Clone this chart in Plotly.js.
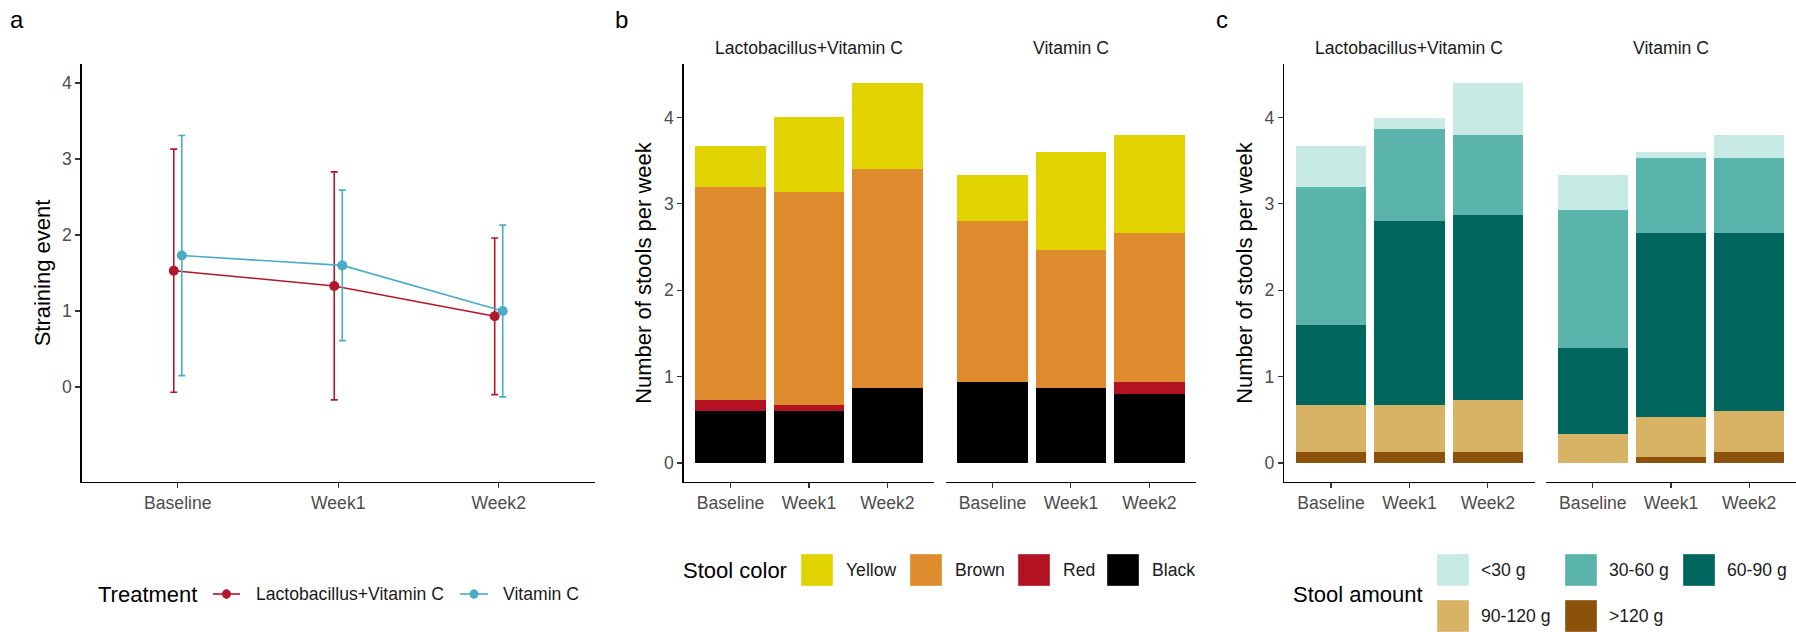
<!DOCTYPE html>
<html><head><meta charset="utf-8">
<script src="https://cdn.plot.ly/plotly-3.0.1.min.js"></script>
<style>html,body{margin:0;padding:0;background:#fff}#chart{width:1796px;height:632px}</style>
</head><body><div id="chart"></div>
<script>
// ---------------- data ----------------
const weeks = ['Baseline', 'Week1', 'Week2'];
const treatments = ['Lactobacillus+Vitamin C', 'Vitamin C'];
const treatmentColors = ['#B2182B', '#4BACC6'];

// panel a: straining events (mean, sd)
const strainMeanLVC = [1.53, 1.33, 0.93];
const strainSdLVC   = [1.60, 1.50, 1.03];
const strainMeanVC  = [1.73, 1.60, 1.00];
const strainSdVC    = [1.58, 0.99, 1.13];

// panel b: stool color (stools per week)
const colorLevels = ['Yellow', 'Brown', 'Red', 'Black'];
const colorFills  = ['#E1D300', '#DD8B2C', '#B31223', '#000000'];
const yellowLVC = [0.467, 0.867, 1.000];
const brownLVC  = [2.467, 2.467, 2.533];
const redLVC    = [0.133, 0.067, 0.000];
const blackLVC  = [0.600, 0.600, 0.867];
const yellowVC  = [0.533, 1.133, 1.133];
const brownVC   = [1.867, 1.600, 1.733];
const redVC     = [0.000, 0.000, 0.133];
const blackVC   = [0.933, 0.867, 0.800];

// panel c: stool amount (stools per week)
const amountLevels = ['<30 g', '30-60 g', '60-90 g', '90-120 g', '>120 g'];
const amountFills  = ['#C7EAE5', '#5AB4AC', '#01665E', '#D8B365', '#8C510A'];
const lt30LVC    = [0.467, 0.133, 0.600];
const a30to60LVC = [1.600, 1.067, 0.933];
const a60to90LVC = [0.933, 2.133, 2.133];
const a90to120LVC= [0.533, 0.533, 0.600];
const gt120LVC   = [0.133, 0.133, 0.133];
const lt30VC     = [0.400, 0.067, 0.267];
const a30to60VC  = [1.600, 0.867, 0.867];
const a60to90VC  = [1.000, 2.133, 2.067];
const a90to120VC = [0.333, 0.467, 0.467];
const gt120VC    = [0.000, 0.067, 0.133];

// ---------------- helpers ----------------
const W = 1796, H = 632;
const px = v => v / W;
const py = v => 1 - v / H;
const FONT = 'Liberation Sans, Arial, sans-serif';
const TICKF = {family: FONT, size: 17.6, color: '#4D4D4D'};
const TITLEF = {family: FONT, size: 22, color: '#000000'};
const TEXTF = {family: FONT, size: 17.6, color: '#1A1A1A'};

const traces = [];

// panel a
const aMeans = [strainMeanLVC, strainMeanVC];
const aSds = [strainSdLVC, strainSdVC];
treatments.forEach((t, i) => {
  traces.push({
    type: 'scatter', mode: 'lines+markers', name: t,
    x: weeks, y: aMeans[i], xaxis: 'x', yaxis: 'y',
    line: {color: treatmentColors[i], width: 1.6},
    marker: {color: treatmentColors[i], size: 10},
    error_y: {type: 'data', array: aSds[i], visible: true, color: treatmentColors[i], thickness: 1.6, width: 3.5},
    showlegend: false, cliponaxis: false
  });
});

// panel b (bottom to top: Black, Red, Brown, Yellow)
const bData = [
  {Yellow: yellowLVC, Brown: brownLVC, Red: redLVC, Black: blackLVC},
  {Yellow: yellowVC, Brown: brownVC, Red: redVC, Black: blackVC}
];
const bAxes = [['x2', 'y2'], ['x3', 'y2']];
[...colorLevels].reverse().forEach(lv => {
  const ci = colorLevels.indexOf(lv);
  treatments.forEach((t, ti) => {
    traces.push({
      type: 'bar', name: lv, x: weeks, y: bData[ti][lv],
      xaxis: bAxes[ti][0], yaxis: bAxes[ti][1],
      marker: {color: colorFills[ci], line: {width: 0}}, showlegend: false
    });
  });
});

// panel c (bottom to top: >120, 90-120, 60-90, 30-60, <30)
const cData = [
  {'<30 g': lt30LVC, '30-60 g': a30to60LVC, '60-90 g': a60to90LVC, '90-120 g': a90to120LVC, '>120 g': gt120LVC},
  {'<30 g': lt30VC, '30-60 g': a30to60VC, '60-90 g': a60to90VC, '90-120 g': a90to120VC, '>120 g': gt120VC}
];
const cAxes = [['x4', 'y3'], ['x5', 'y3']];
[...amountLevels].reverse().forEach(lv => {
  const ci = amountLevels.indexOf(lv);
  treatments.forEach((t, ti) => {
    traces.push({
      type: 'bar', name: lv, x: weeks, y: cData[ti][lv],
      xaxis: cAxes[ti][0], yaxis: cAxes[ti][1],
      marker: {color: amountFills[ci], line: {width: 0}}, showlegend: false
    });
  });
});

// ---------------- axes ----------------
const baseAxis = {
  showline: true, linecolor: '#000', linewidth: 1.2, ticks: 'outside', ticklen: 5,
  tickcolor: '#333', tickwidth: 1.1, tickfont: TICKF, showgrid: false, zeroline: false,
  fixedrange: true, automargin: false
};
const xcat = (dom, anchor) => Object.assign({}, baseAxis, {
  domain: dom, anchor: anchor, type: 'category', categoryorder: 'array', categoryarray: weeks,
  range: [-0.6, 2.6]
});
const yDom = [py(482), py(64)];
const layout = {
  width: W, height: H, margin: {l: 0, r: 0, t: 0, b: 0},
  paper_bgcolor: '#fff', plot_bgcolor: 'rgba(0,0,0,0)',
  font: {family: FONT},
  showlegend: false,
  barmode: 'stack', bargap: 0.1,
  scattermode: 'group', scattergap: 0.9,
  xaxis: xcat([px(81.5), px(595)], 'y'),
  yaxis: Object.assign({}, baseAxis, {domain: yDom, anchor: 'x', range: [-1.25, 4.25], tickvals: [0,1,2,3,4],
    title: {text: 'Straining event', font: TITLEF, standoff: 5}}),
  xaxis2: xcat([px(683.5), px(934.4)], 'y2'),
  xaxis3: xcat([px(945.5), px(1196.4)], 'y2'),
  yaxis2: Object.assign({}, baseAxis, {domain: yDom, anchor: 'x2', range: [-0.22, 4.62], tickvals: [0,1,2,3,4],
    title: {text: 'Number of stools per week', font: TITLEF, standoff: 6}}),
  xaxis4: xcat([px(1284), px(1534.9)], 'y3'),
  xaxis5: xcat([px(1546), 1], 'y3'),
  yaxis3: Object.assign({}, baseAxis, {domain: yDom, anchor: 'x4', range: [-0.22, 4.62], tickvals: [0,1,2,3,4],
    title: {text: 'Number of stools per week', font: TITLEF, standoff: 5}}),
  annotations: [], shapes: []
};

const ann = layout.annotations, shp = layout.shapes;
// panel labels
[['a', 17], ['b', 621], ['c', 1222]].forEach(([t, x]) => ann.push({
  text: t, x: px(x), y: py(20), xref: 'paper', yref: 'paper', showarrow: false,
  xanchor: 'center', yanchor: 'middle', font: {family: FONT, size: 24, color: '#000'}
}));
// facet strip labels
const stripCenters = [[683.5, 934.4], [945.5, 1196.4], [1284, 1534.9], [1546, 1796]];
stripCenters.forEach((d, i) => ann.push({
  text: treatments[i % 2], x: px((d[0] + d[1]) / 2), y: py(48), xref: 'paper', yref: 'paper',
  showarrow: false, xanchor: 'center', yanchor: 'middle', font: TEXTF
}));

// ---------------- legends (drawn) ----------------
const legendText = (t, x, y, f) => ann.push({text: t, x: px(x), y: py(y), xref: 'paper', yref: 'paper',
  showarrow: false, xanchor: 'left', yanchor: 'middle', font: f});
const swatch = (x, yc, s, c) => shp.push({type: 'rect', xref: 'paper', yref: 'paper',
  x0: px(x), x1: px(x + s), y0: py(yc + s / 2), y1: py(yc - s / 2),
  fillcolor: c, line: {width: 0.6, color: 'rgba(255,255,255,0.6)'}});

// legend a
legendText('Treatment', 96, 594, TITLEF);
const legA = [{x0: 213, x1: 240, lx: 254}, {x0: 460, x1: 488, lx: 501}];
treatments.forEach((t, i) => {
  const L = legA[i], yc = 594, cx = (L.x0 + L.x1) / 2;
  shp.push({type: 'line', xref: 'paper', yref: 'paper', x0: px(L.x0), x1: px(L.x1), y0: py(yc), y1: py(yc),
    line: {color: treatmentColors[i], width: 1.6}});
  shp.push({type: 'line', xref: 'paper', yref: 'paper', x0: px(cx), x1: px(cx), y0: py(yc - 5), y1: py(yc + 5),
    line: {color: treatmentColors[i], width: 1.6}});
  shp.push({type: 'circle', xref: 'paper', yref: 'paper', x0: px(cx - 4.5), x1: px(cx + 4.5), y0: py(yc + 4.5), y1: py(yc - 4.5),
    fillcolor: treatmentColors[i], line: {width: 0}});
  legendText(t, L.lx, yc, TEXTF);
});

// legend b
legendText('Stool color', 681, 570, TITLEF);
const legBx = [801, 910, 1018, 1107];
colorLevels.forEach((lv, i) => {
  swatch(legBx[i], 570, 32, colorFills[i]);
  legendText(lv, legBx[i] + 43, 570, TEXTF);
});

// legend c
legendText('Stool amount', 1291, 594, TITLEF);
const legCx = [1437, 1565, 1683], legCy = [570, 616];
amountLevels.forEach((lv, i) => {
  const col = i % 3, row = Math.floor(i / 3);
  swatch(legCx[col], legCy[row], 32, amountFills[i]);
  legendText(lv, legCx[col] + 42, legCy[row], TEXTF);
});

Plotly.newPlot('chart', traces, layout, {displayModeBar: false, staticPlot: true});
</script>
</body></html>
